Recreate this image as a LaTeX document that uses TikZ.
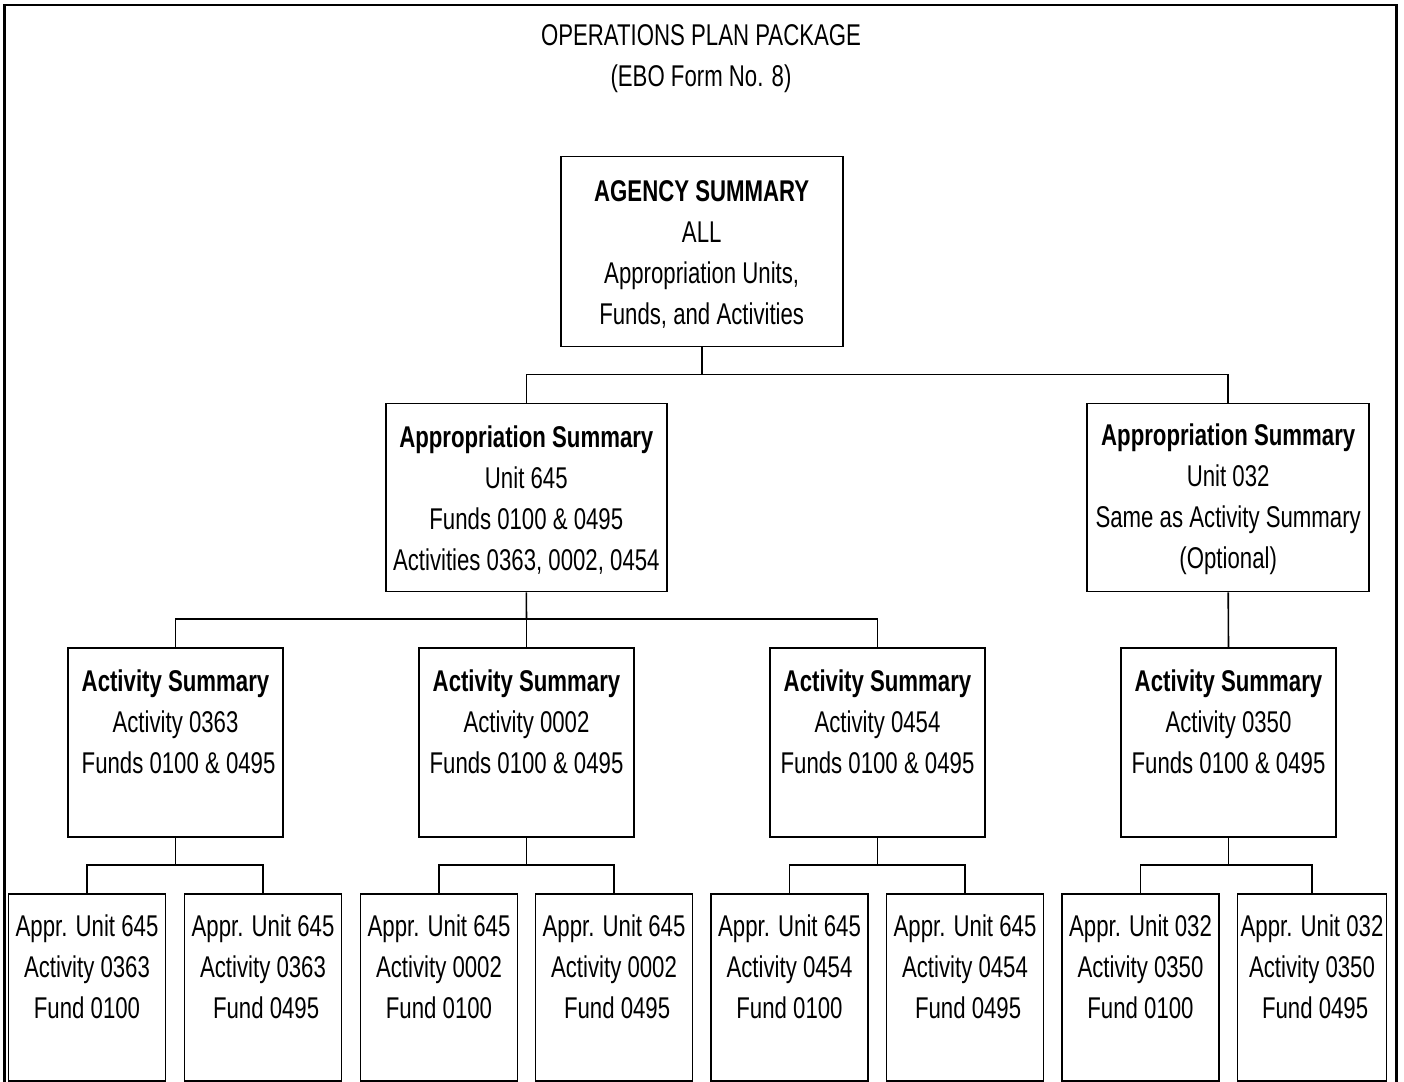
\documentclass[tikz,border=0pt]{standalone}
\usepackage{fontspec}
\setmainfont[FakeStretch=0.74]{Liberation Sans}
\newcommand{\tallstrut}{\rule{0pt}{13pt}}
\begin{document}
\begin{tikzpicture}[x=0.5pt,y=-0.5pt,
  every node/.style={font=\fontsize{15}{20.5}\selectfont},
  box/.style={draw, line width=0.8pt, inner sep=0pt, align=center, anchor=center},
  topbox/.style={box, minimum width=141pt, minimum height=95pt},
  actbox/.style={box, minimum width=107.5pt, minimum height=94.5pt},
  leafbox/.style={box, minimum width=78.5pt, minimum height=93.5pt},
  conn/.style={line width=0.8pt}]
\useasboundingbox (0,0) rectangle (1404,1082);
\draw[line width=1.2pt] (4.5,1083) -- (4.5,5) -- (1396.5,5) -- (1396.5,1083);

\node[align=center] (title) at (701,58.5) {OPERATIONS PLAN PACKAGE\\(EBO Form No. 8)};

\node[topbox] (agency) at (701.7,251.5) {\tallstrut\textbf{AGENCY SUMMARY}\\ALL\\Appropriation Units,\\Funds, and Activities};
\node[topbox, minimum width=140.5pt, minimum height=94pt] (app645) at (526.3,497.5) {\tallstrut\textbf{Appropriation Summary}\\Unit 645\\Funds 0100 \& 0495\\Activities 0363, 0002, 0454};
\node[topbox, minimum height=94pt] (app032) at (1228.2,497.5) {\tallstrut\textbf{Appropriation Summary}\\Unit 032\\Same as Activity Summary\\(Optional)};

\node[actbox] (act1) at (175.5,742.5) {\textbf{Activity Summary}\\Activity 0363\\\ Funds 0100 \& 0495\\\mbox{}};
\node[actbox] (act2) at (526.5,742.5) {\textbf{Activity Summary}\\Activity 0002\\Funds 0100 \& 0495\\\mbox{}};
\node[actbox] (act3) at (877.5,742.5) {\textbf{Activity Summary}\\Activity 0454\\Funds 0100 \& 0495\\\mbox{}};
\node[actbox] (act4) at (1228.5,742.5) {\textbf{Activity Summary}\\Activity 0350\\Funds 0100 \& 0495\\\mbox{}};

\node[leafbox] (l1) at (87,987.5) {Appr. Unit 645\\Activity 0363\\Fund 0100\\\mbox{}};
\node[leafbox] (l2) at (263,987.5) {Appr. Unit 645\\Activity 0363\\\ Fund 0495\\\mbox{}};
\node[leafbox] (l3) at (439,987.5) {Appr. Unit 645\\Activity 0002\\Fund 0100\\\mbox{}};
\node[leafbox] (l4) at (614,987.5) {Appr. Unit 645\\Activity 0002\\\ Fund 0495\\\mbox{}};
\node[leafbox] (l5) at (789.5,987.5) {Appr. Unit 645\\Activity 0454\\Fund 0100\\\mbox{}};
\node[leafbox] (l6) at (965,987.5) {Appr. Unit 645\\Activity 0454\\\ Fund 0495\\\mbox{}};
\node[leafbox] (l7) at (1140.5,987.5) {Appr. Unit 032\\Activity 0350\\Fund 0100\\\mbox{}};
\node[leafbox, minimum width=74.5pt] (l8) at (1312,987.5) {Appr. Unit 032\\Activity 0350\\\ Fund 0495\\\mbox{}};

\coordinate (b1) at (701.7,374.5);
\coordinate (b2) at (526.5,619);
\coordinate (b3) at (175.5,865);
\coordinate (b4) at (526.5,865);
\coordinate (b5) at (877.5,865);
\coordinate (b6) at (1228.5,865);

\draw[conn] (agency.south) -- (b1);
\draw[conn] (app645.north) |- (b1) -| (app032.north);
\draw[conn] (app645.south) -- (b2);
\draw[conn] (act1.north) |- (b2) -| (act3.north);
\draw[conn] (b2) -- (act2.north);
\draw[conn] (app032.south) -- (act4.north);
\draw[conn] (act1.south) -- (b3);
\draw[conn] (l1.north) |- (b3) -| (l2.north);
\draw[conn] (act2.south) -- (b4);
\draw[conn] (l3.north) |- (b4) -| (l4.north);
\draw[conn] (act3.south) -- (b5);
\draw[conn] (l5.north) |- (b5) -| (l6.north);
\draw[conn] (act4.south) -- (b6);
\draw[conn] (l7.north) |- (b6) -| (l8.north);
\end{tikzpicture}
\end{document}
